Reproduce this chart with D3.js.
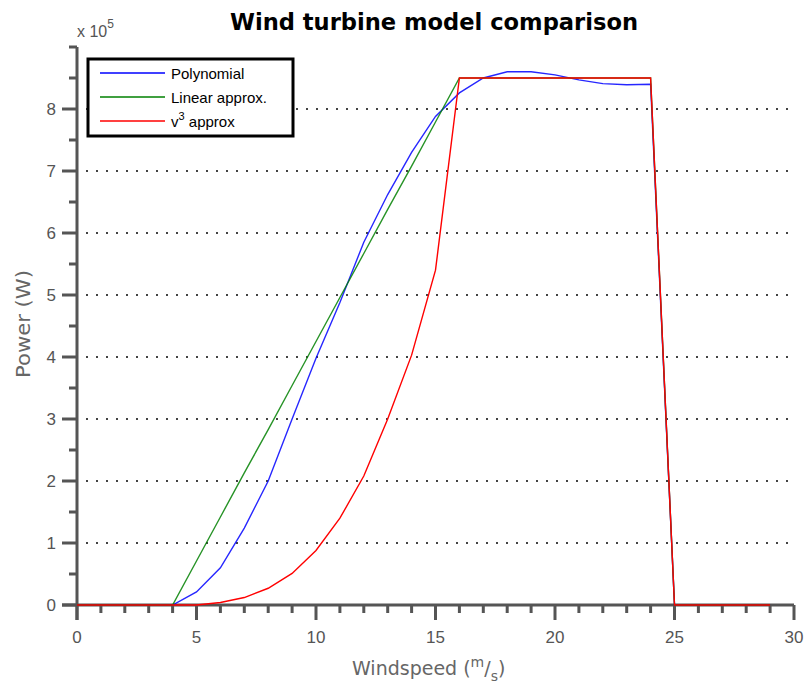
<!DOCTYPE html>
<html>
<head>
<meta charset="utf-8">
<script src="https://cdn.jsdelivr.net/npm/d3@7"></script>
<style>
  html, body { margin: 0; padding: 0; background: #fff; }
  svg { display: block; }
</style>
</head>
<body>
<svg id="chart" width="806" height="688"></svg>
<script>
// ---- data (power in units of 1e5 W) ----
const windspeed = [0,1,2,3,4,5,6,7,8,9,10,11,12,13,14,15,16,17,18,19,20,21,22,23,24,25,26,27,28,29];
const polynomial = [0,0,0,0,0,0.21,0.6,1.24,2.0,3.0,3.98,4.88,5.85,6.62,7.3,7.88,8.26,8.5,8.6,8.6,8.55,8.47,8.41,8.39,8.4,0,0,0,0,0];
const linearApprox = [0,0,0,0,0,0.71,1.42,2.13,2.83,3.54,4.25,4.96,5.67,6.38,7.08,7.79,8.5,8.5,8.5,8.5,8.5,8.5,8.5,8.5,8.5,0,0,0,0,0];
const v3Approx = [0,0,0,0,0,0,0.04,0.12,0.27,0.51,0.88,1.4,2.08,3.0,4.03,5.4,8.5,8.5,8.5,8.5,8.5,8.5,8.5,8.5,8.5,0,0,0,0,0];
const seriesNames = ["Polynomial", "Linear approx.", "v3 approx"];
const seriesColors = ["#0000ff", "#008000", "#ff0000"];
const xTickLabels = [0,5,10,15,20,25,30];
const yTickLabels = [0,1,2,3,4,5,6,7,8];

const svg = d3.select("#chart");
const x = d3.scaleLinear().domain([0, 30]).range([77, 794]);
const y = d3.scaleLinear().domain([0, 9]).range([605, 47]);
const axisColor = "#555";

// gridlines
svg.append("g").selectAll("line").data(yTickLabels.filter(d => d > 0)).join("line")
  .attr("x1", x(0) + 9).attr("x2", x(30)).attr("y1", d => y(d)).attr("y2", d => y(d))
  .attr("stroke", "#444").attr("stroke-width", 2).attr("stroke-dasharray", "2,8");

// x axis
const xMinor = d3.range(0, 31, 1);
const xg = svg.append("g");
xg.append("line").attr("x1", x(0) - 15).attr("x2", x(30)).attr("y1", y(0)).attr("y2", y(0))
  .attr("stroke", axisColor).attr("stroke-width", 3);
xg.selectAll("line.t").data(xMinor).join("line").attr("class", "t")
  .attr("x1", d => x(d)).attr("x2", d => x(d))
  .attr("y1", y(0)).attr("y2", d => y(0) + (d % 5 === 0 ? 15 : 8))
  .attr("stroke", axisColor).attr("stroke-width", 3);
xg.selectAll("text").data(xTickLabels).join("text")
  .attr("x", d => x(d)).attr("y", 643).attr("text-anchor", "middle")
  .attr("font-family", "Liberation Sans, Arial, sans-serif").attr("font-size", 17)
  .attr("fill", "#555").text(d => d);

// y axis
const yMinor = d3.range(0, 9.01, 0.5);
const yg = svg.append("g");
yg.append("line").attr("x1", x(0)).attr("x2", x(0)).attr("y1", y(9)).attr("y2", y(0) + 15)
  .attr("stroke", axisColor).attr("stroke-width", 3);
yg.selectAll("line.t").data(yMinor).join("line").attr("class", "t")
  .attr("y1", d => y(d)).attr("y2", d => y(d))
  .attr("x1", x(0)).attr("x2", d => x(0) - ((Number.isInteger(d) && d < 9) ? 15 : 8))
  .attr("stroke", axisColor).attr("stroke-width", 3);
yg.selectAll("text").data(yTickLabels).join("text")
  .attr("x", 56).attr("y", d => y(d) + 6).attr("text-anchor", "end")
  .attr("font-family", "Liberation Sans, Arial, sans-serif").attr("font-size", 17)
  .attr("fill", "#555").text(d => d);

// lines (drawn over the axes)
const series = [polynomial, linearApprox, v3Approx];
const line = d3.line().x((d, i) => x(windspeed[i])).y(d => y(d));
series.forEach((s, k) => {
  svg.append("path").datum(s).attr("d", line).attr("fill", "none")
    .attr("stroke", seriesColors[k]).attr("stroke-width", 1.4)
    .attr("stroke-opacity", k === 2 ? 1 : 0.85);
});

// exponent
const ex = svg.append("text").attr("x", 77).attr("y", 37)
  .attr("font-family", "Liberation Sans, Arial, sans-serif").attr("font-size", 16).attr("fill", "#555");
ex.append("tspan").text("x 10");
ex.append("tspan").attr("dy", -9).attr("font-size", 12).text("5");

// title
svg.append("text").attr("x", 434).attr("y", 30).attr("text-anchor", "middle")
  .attr("font-family", "DejaVu Sans, sans-serif").attr("font-weight", "bold").attr("font-size", 23)
  .attr("textLength", 408).attr("lengthAdjust", "spacingAndGlyphs")
  .attr("fill", "#000").text("Wind turbine model comparison");

// axis labels
svg.append("text").attr("transform", "translate(30,324) rotate(-90)").attr("text-anchor", "middle")
  .attr("font-family", "DejaVu Sans, sans-serif").attr("font-size", 19).attr("fill", "#666")
  .attr("textLength", 108).attr("lengthAdjust", "spacingAndGlyphs")
  .text("Power (W)");
const xl = svg.append("text").attr("x", 352).attr("y", 675)
  .attr("font-family", "DejaVu Sans, sans-serif").attr("font-size", 19).attr("fill", "#666");
xl.append("tspan").text("Windspeed (");
xl.append("tspan").attr("dy", -8).attr("font-size", 14).text("m");
xl.append("tspan").attr("dy", 8).text("/");
xl.append("tspan").attr("dy", 6).attr("font-size", 14).text("s");
xl.append("tspan").attr("dy", -6).text(")");

// legend
const lg = svg.append("g");
lg.append("rect").attr("x", 88).attr("y", 59).attr("width", 205).attr("height", 77)
  .attr("fill", "#fff").attr("stroke", "#000").attr("stroke-width", 3);
const legendY = [73, 97, 121];
seriesNames.forEach((n, k) => {
  lg.append("line").attr("x1", 100).attr("x2", 165).attr("y1", legendY[k]).attr("y2", legendY[k])
    .attr("stroke", seriesColors[k]).attr("stroke-width", 1.3);
  const t = lg.append("text").attr("x", 171).attr("y", legendY[k] + 6)
    .attr("font-family", "Liberation Sans, Arial, sans-serif").attr("font-size", 15).attr("fill", "#000");
  if (k === 2) {
    t.append("tspan").text("v");
    t.append("tspan").attr("dy", -7).attr("font-size", 11).text("3");
    t.append("tspan").attr("dy", 7).text(" approx");
  } else {
    t.text(n);
  }
});
</script>
</body>
</html>
